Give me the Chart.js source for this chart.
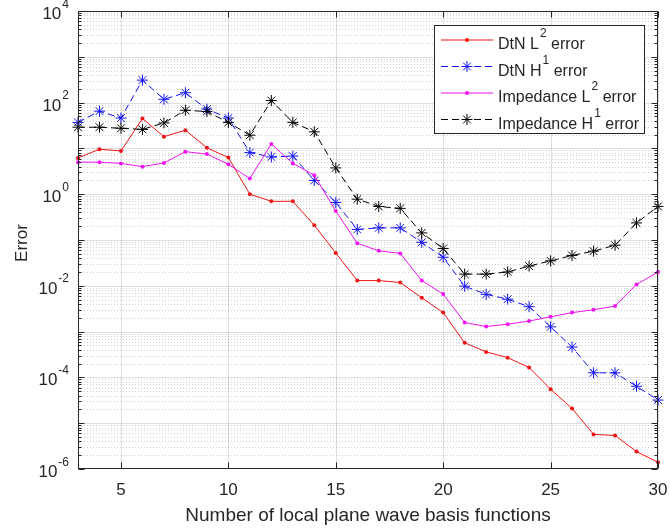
<!DOCTYPE html>
<html>
<head>
<meta charset="utf-8">
<script src="https://cdn.jsdelivr.net/npm/chart.js@4.4.1/dist/chart.umd.min.js"></script>
<style>
  html, body { margin: 0; padding: 0; background: #fff; }
  #wrap { width: 670px; height: 531px; }
</style>
</head>
<body>
<div id="wrap"><canvas id="errorChart" width="670" height="531"></canvas></div>
<script>
// number of local plane wave basis functions
const basisCounts = [3, 4, 5, 6, 7, 8, 9, 10, 11, 12, 13, 14, 15, 16, 17, 18, 19, 20, 21, 22, 23, 24, 25, 26, 27, 28, 29, 30];

const dtnL2 = [6.2, 9.6, 8.8, 45, 18, 25, 10.3, 6.3, 1.0, 0.70, 0.70, 0.21, 0.052, 0.013, 0.013, 0.0118, 0.0055, 0.0026,
  5.7e-4, 3.6e-4, 2.7e-4, 1.65e-4, 5.5e-5, 2.1e-5, 5.7e-6, 5.4e-6, 2.4e-6, 1.4e-6];
const dtnH1 = [37, 65, 46, 310, 118, 164, 72, 46, 8.1, 6.5, 6.8, 2.0, 0.66, 0.17, 0.184, 0.184, 0.089, 0.042,
  0.0098, 0.0065, 0.0051, 0.0035, 0.00127, 4.6e-4, 1.26e-4, 1.26e-4, 6.4e-5, 3.2e-5];
const impL2 = [5.0, 5.0, 4.7, 4.0, 4.8, 8.5, 7.5, 4.5, 2.2, 12.5, 4.7, 2.6, 0.43, 0.085, 0.058, 0.051, 0.013, 0.0066,
  0.00158, 0.00129, 0.00145, 0.0017, 0.0021, 0.0026, 0.0030, 0.0036, 0.0107, 0.020];
const impH1 = [29, 29, 27.5, 26, 36, 68, 64, 37, 19.4, 111, 37, 23, 3.75, 0.78, 0.54, 0.49, 0.143, 0.065,
  0.018, 0.018, 0.020, 0.027, 0.035, 0.046, 0.057, 0.077, 0.236, 0.54];

const xTicks = [5, 10, 15, 20, 25, 30];
const yExponents = [4, 2, 0, -2, -4, -6];

const seriesNames = [['DtN L', '2'], ['DtN H', '1'], ['Impedance L', '2'], ['Impedance H', '1']];

const FONT = "'Liberation Sans', Arial, sans-serif";
const AXIS = '#262626';

const toPoints = vals => basisCounts.map((n, i) => ({ x: n, y: vals[i] }));

function hline(ctx, x0, x1, y) { ctx.beginPath(); ctx.moveTo(x0, y); ctx.lineTo(x1, y); ctx.stroke(); }
function vline(ctx, x, y0, y1) { ctx.beginPath(); ctx.moveTo(x, y0); ctx.lineTo(x, y1); ctx.stroke(); }

function drawStar(ctx, x, y, r) {
  ctx.beginPath();
  ctx.moveTo(x - r, y); ctx.lineTo(x + r, y);
  ctx.moveTo(x, y - r); ctx.lineTo(x, y + r);
  const d = r * Math.SQRT1_2;
  ctx.moveTo(x - d, y - d); ctx.lineTo(x + d, y + d);
  ctx.moveTo(x - d, y + d); ctx.lineTo(x + d, y - d);
  ctx.stroke();
}

// text with a superscript part, e.g. "DtN L" + "2" + " error"
function supText(ctx, x, baseline, base, sup, tail, size) {
  ctx.font = size + 'px ' + FONT;
  ctx.fillText(base, x, baseline);
  let w = ctx.measureText(base).width;
  ctx.font = Math.round(size * 0.72) + 'px ' + FONT;
  ctx.fillText(sup, x + w + 1, baseline - size * 0.75);
  w += ctx.measureText(sup).width + 1;
  ctx.font = size + 'px ' + FONT;
  ctx.fillText(tail, x + w, baseline);
}

const matlabAxes = {
  id: 'matlabAxes',
  beforeDatasetsDraw(chart) {
    const { ctx, chartArea: a, scales: { x, y } } = chart;
    ctx.save();
    ctx.lineWidth = 1;
    // minor grid (dotted)
    ctx.strokeStyle = 'rgba(38,38,38,0.22)';
    ctx.setLineDash([1, 2]);
    for (let e = -6; e < 4; e++) {
      for (let m = 2; m <= 9; m++) {
        hline(ctx, a.left, a.right, Math.round(y.getPixelForValue(m * Math.pow(10, e))) + 0.5);
      }
    }
    // major grid
    ctx.setLineDash([]);
    ctx.strokeStyle = 'rgba(38,38,38,0.15)';
    for (let e = -5; e < 4; e++) {
      hline(ctx, a.left, a.right, Math.round(y.getPixelForValue(Math.pow(10, e))) + 0.5);
    }
    xTicks.forEach(v => vline(ctx, Math.round(x.getPixelForValue(v)) + 0.5, a.top, a.bottom));
    ctx.restore();
  },
  afterDatasetsDraw(chart) {
    const { ctx, chartArea: a, scales: { x, y } } = chart;
    ctx.save();
    ctx.strokeStyle = AXIS;
    ctx.fillStyle = AXIS;
    ctx.lineWidth = 1;
    const L = a.left + 0.5, R = a.right - 0.5, T = a.top + 0.5, B = a.bottom - 0.5;
    ctx.strokeRect(L, T, R - L, B - T);

    // y ticks, both sides
    for (let e = -6; e < 4; e++) {
      for (let m = 1; m <= 9; m++) {
        const py = Math.round(y.getPixelForValue(m * Math.pow(10, e))) + 0.5;
        const len = m === 1 ? 6 : 3;
        hline(ctx, L, L + len, py);
        hline(ctx, R - len, R, py);
      }
    }
    const topTick = Math.round(y.getPixelForValue(1e4)) + 0.5;
    hline(ctx, L, L + 6, topTick); hline(ctx, R - 6, R, topTick);

    // x ticks, bottom and top
    xTicks.forEach(v => {
      const px = Math.round(x.getPixelForValue(v)) + 0.5;
      vline(ctx, px, B - 6, B);
      vline(ctx, px, T, T + 6);
    });

    // x tick labels
    ctx.font = '17px ' + FONT;
    ctx.textAlign = 'center';
    ctx.textBaseline = 'alphabetic';
    xTicks.forEach(v => ctx.fillText(String(v), x.getPixelForValue(v), a.bottom + 26));

    // y tick labels 10^n
    ctx.textAlign = 'left';
    yExponents.forEach(e => {
      const py = y.getPixelForValue(Math.pow(10, e));
      const sup = String(e);
      ctx.font = '12px ' + FONT;
      const sw = ctx.measureText(sup).width;
      ctx.font = '17px ' + FONT;
      const bw = ctx.measureText('10').width;
      const right = a.left - 9;
      ctx.fillText('10', right - sw - 1 - bw, py + 8);
      ctx.font = '12px ' + FONT;
      ctx.fillText(sup, right - sw, py - 3.5);
    });

    // axis titles
    ctx.font = '19px ' + FONT;
    ctx.textAlign = 'center';
    ctx.fillText('Number of local plane wave basis functions', (a.left + a.right) / 2, a.bottom + 52);
    ctx.save();
    ctx.translate(27, (a.top + a.bottom) / 2 + 3);
    ctx.rotate(-Math.PI / 2);
    ctx.font = '17px ' + FONT;
    ctx.fillText('Error', 0, 0);
    ctx.restore();

    // legend box
    const bx = 434.5, by = 25.5, bw = 210, bh = 108;
    ctx.fillStyle = '#fff';
    ctx.fillRect(bx, by, bw, bh);
    ctx.strokeStyle = AXIS;
    ctx.strokeRect(bx, by, bw, bh);
    chart.data.datasets.forEach((ds, i) => {
      const ly = 40 + i * 26.5;
      ctx.strokeStyle = ds.borderColor;
      ctx.fillStyle = ds.borderColor;
      ctx.lineWidth = 1;
      ctx.setLineDash(ds.borderDash || []);
      hline(ctx, 441, 493, ly);
      ctx.setLineDash([]);
      if (ds.pointStyle === 'star') {
        drawStar(ctx, 467, ly, 5.5);
      } else {
        ctx.beginPath(); ctx.arc(467, ly, 2, 0, Math.PI * 2); ctx.fill();
      }
      ctx.fillStyle = AXIS;
      ctx.textAlign = 'left';
      supText(ctx, 498, ly + 9, seriesNames[i][0], seriesNames[i][1], ' error', 16);
    });
    ctx.restore();
  }
};

const ctx = document.getElementById('errorChart').getContext('2d');
const errorChart = new Chart(ctx, {
  type: 'line',
  data: {
    datasets: [
      {
        label: 'DtN L2 error',
        data: toPoints(dtnL2),
        borderColor: '#f01414',
        backgroundColor: '#f01414',
        borderWidth: 1,
        pointStyle: 'circle',
        pointRadius: 2,
        pointBorderWidth: 0,
        order: 4
      },
      {
        label: 'DtN H1 error',
        data: toPoints(dtnH1),
        borderColor: '#1414f5',
        backgroundColor: '#1414f5',
        borderWidth: 1,
        borderDash: [7, 4],
        pointStyle: 'star',
        pointRadius: 5.5,
        pointBorderWidth: 1,
        order: 3
      },
      {
        label: 'Impedance L2 error',
        data: toPoints(impL2),
        borderColor: '#f014f0',
        backgroundColor: '#f014f0',
        borderWidth: 1,
        pointStyle: 'circle',
        pointRadius: 2,
        pointBorderWidth: 0,
        order: 2
      },
      {
        label: 'Impedance H1 error',
        data: toPoints(impH1),
        borderColor: '#000000',
        backgroundColor: '#000000',
        borderWidth: 1,
        borderDash: [7, 4],
        pointStyle: 'star',
        pointRadius: 5.5,
        pointBorderWidth: 1,
        order: 1
      }
    ]
  },
  options: {
    responsive: false,
    animation: false,
    clip: false,
    layout: {
      padding: { left: 78, right: 12, top: 11, bottom: 62 }
    },
    elements: {
      line: { tension: 0 }
    },
    plugins: {
      legend: { display: false },
      tooltip: { enabled: false }
    },
    scales: {
      x: {
        type: 'linear',
        display: false,
        min: 3,
        max: 30
      },
      y: {
        type: 'logarithmic',
        display: false,
        min: 1e-6,
        max: 1e4
      }
    }
  },
  plugins: [matlabAxes]
});
</script>
</body>
</html>
